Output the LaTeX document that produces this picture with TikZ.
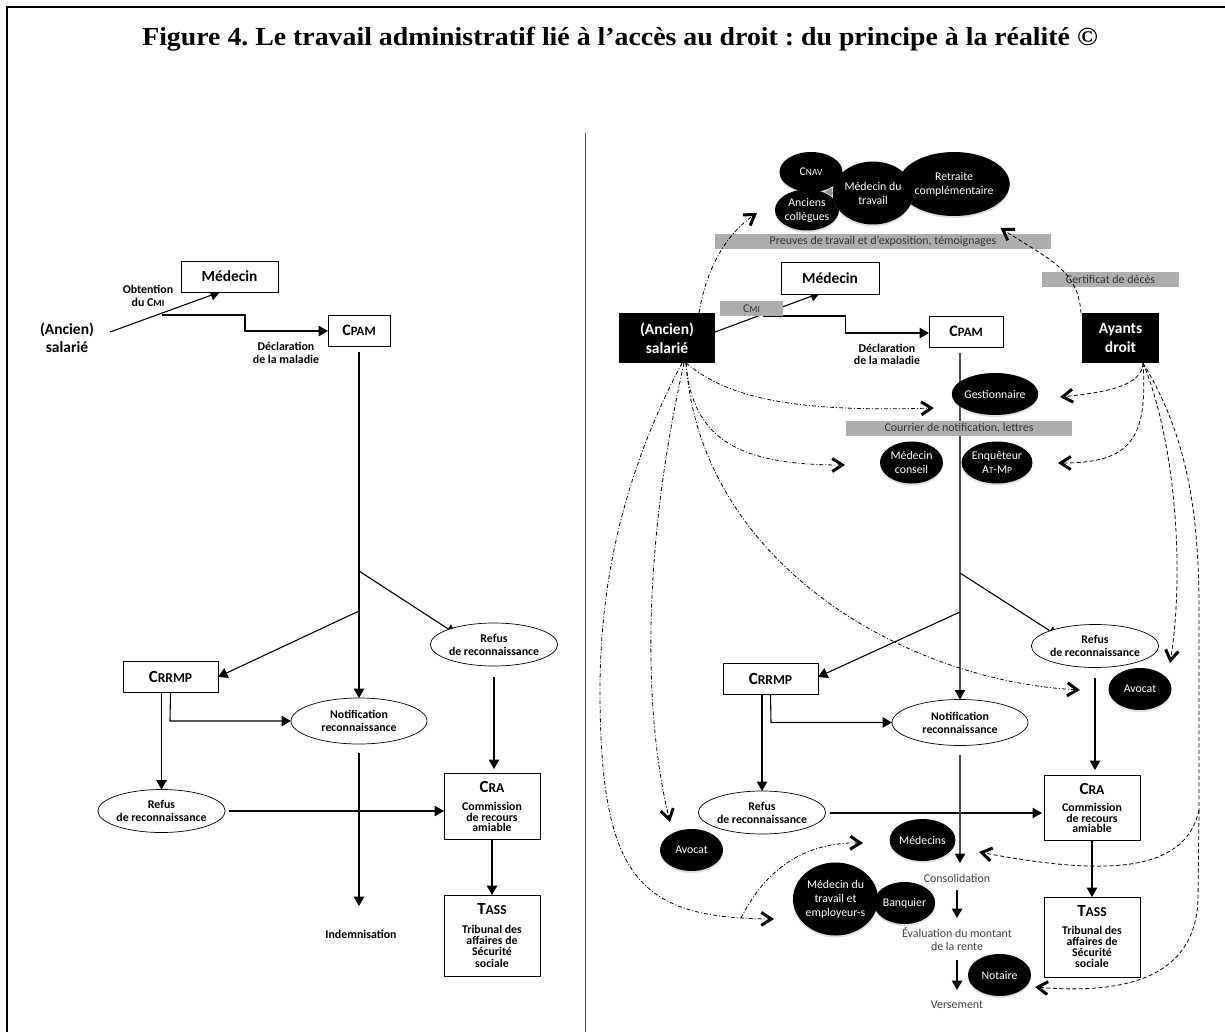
\documentclass[tikz,border=0pt]{standalone}
\usepackage{fontspec}
\setmainfont{Carlito}
\newfontfamily\titlefont{Liberation Serif}
\usetikzlibrary{arrows.meta,shapes.geometric,shadows}
\pgfdeclarelayer{bg}
\pgfsetlayers{bg,main}
\newcommand{\fs}[1]{\fontsize{#1}{#1}\selectfont}
\newcommand{\smc}[3]{{\fs{#1}#2\fs{\fpeval{#1*0.8}}#3}}
\tikzset{
  x=1pt,y=-1pt,
  every node/.style={inner sep=0pt,outer sep=0pt,align=center},
  box/.style={draw=black,fill=white,line width=.9pt,rectangle},
  blackbox/.style={fill=black,text=white,rectangle,font=\bfseries\fontsize{15.5}{19}\selectfont},
  oval/.style={draw=black,fill=white,line width=.7pt,ellipse,font=\bfseries\fontsize{11.8}{13}\selectfont},
  blob/.style={fill=black,text=white,ellipse,font=\fontsize{11.8}{14}\selectfont,
    drop shadow={shadow xshift=0pt,shadow yshift=-2pt,opacity=.25}},
  graybar/.style={fill=black!32,rectangle,text=black!80,font=\fontsize{11.9}{13}\selectfont},
  lab/.style={font=\bfseries\fontsize{11.9}{12.5}\selectfont},
  plain/.style={text=black!75,font=\fontsize{11.9}{13}\selectfont},
  conn/.style={line width=1.1pt,-{Triangle[length=9.5pt,width=10.5pt]}},
  connb/.style={line width=1.1pt,black!70,-{Triangle[length=9.5pt,width=10.5pt,color=black]}},
  ddot/.style={line width=.8pt,dash pattern=on 4pt off 2pt on 1pt off 2pt,-{Straight Barb[length=10pt,width=13pt,line width=3pt]}},
  dsh/.style={line width=.8pt,dash pattern=on 4pt off 2.5pt,-{Straight Barb[length=10pt,width=13pt,line width=3pt]}},
  dshplain/.style={line width=.8pt,dash pattern=on 4pt off 2.5pt},
}
\begin{document}
\begin{tikzpicture}
\useasboundingbox (0,0) rectangle (1225,1032);
% frame, title, separator
\draw[line width=2.5pt] (7,1032) -- (7,7) -- (1225,7);
\node[font=\titlefont\bfseries\fontsize{26}{28}\selectfont] (title) at (620,39) {\frenchspacing\scalebox{1.07}[1]{Figure 4. Le travail administratif lié à l’accès au droit : du principe à la réalité ©}};
\coordinate (septop) at (585.5,133);
\coordinate (sepbot) at (585.5,1032);
\draw[line width=.7pt,black!70] (septop) -- (sepbot);

% ---------- left panel ----------
\node[font=\bfseries\fontsize{15.5}{18}\selectfont] (lsal) at (67,338) {(Ancien)\\salarié};
\node[lab] (lobt) at (148,296) {Obtention\\du \smc{11.9}{C}{MI}};
\node[box,minimum width=97pt,minimum height=31pt,font=\bfseries\fontsize{15.4}{18}\selectfont] (lmed) at (229.5,276.5) {Médecin};
\node[box,minimum width=62pt,minimum height=31pt,font=\bfseries] (lcpam) at (359,330.5) {\smc{16}{C}{PAM}};
\node[lab] (ldec) at (286,353) {Déclaration\\de la maladie};
\node[oval,minimum width=126pt,minimum height=43pt] (lrefa) at (494,644.5) {Refus\\de reconnaissance};
\node[box,minimum width=95pt,minimum height=31pt,font=\bfseries] (lcrrmp) at (170.5,676.5) {\smc{17}{C}{RRMP}};
\node[oval,minimum width=136pt,minimum height=46pt] (lnot) at (359,721) {Notification\\reconnaissance};
\node[oval,minimum width=126pt,minimum height=43pt] (lrefb) at (161.5,811) {Refus\\de reconnaissance};
\node[box,minimum width=96pt,minimum height=66pt] (lcra) at (492,806) {};
\node[font=\bfseries] at (492,787) {\smc{17}{C}{RA}};
\node[lab,font=\bfseries\fontsize{11.8}{10.8}\selectfont] at (492,817) {Commission\\de recours\\amiable};
\node[box,minimum width=96pt,minimum height=81pt] (ltass) at (492,935.5) {};
\node[font=\bfseries] at (492,909) {\smc{17}{T}{ASS}};
\node[lab,font=\bfseries\fontsize{11.8}{11.4}\selectfont] at (492,946) {Tribunal des\\affaires de\\Sécurité\\sociale};
\node[lab] (lind) at (361,934) {Indemnisation};

\coordinate (lsa) at (110,332);
\coordinate (lst) at (162,315);
\coordinate (lbr1) at (359,571);
\coordinate (lbr2) at (359,611);
\coordinate (lrt) at (456,634);
\begin{pgfonlayer}{bg}
\draw[conn] (lsa) -- (220,292);
\draw[conn] (lst) -- (245,315) -- (245,331) -- (lcpam.west |- 0,331);
\draw[conn] (359,352) -- (lnot.north);
\draw[conn] (lbr1) -- (lrt);
\draw[conn] (lbr2) -- (lcrrmp.east |- 0,677);
\draw[conn] (lcrrmp.south -| lrefb.north) -- (lrefb.north);
\draw[conn] (lcrrmp.south) -- (170,721) -- (lnot.west);
\draw[conn] (lrefa.south |- 0,677) -- (lrefa.south |- 0,769);
\draw[conn] (229,811) -- (lcra.west |- 0,811);
\draw[conn] (359,753) -- (359,906);
\draw[conn] (lcra.south) -- (ltass.north);
\end{pgfonlayer}

% ---------- right panel ----------
\node[blackbox,minimum width=96pt,minimum height=50pt] (sal) at (667,338) {(Ancien)\\salarié};
\node[blackbox,minimum width=77pt,minimum height=50pt] (ay) at (1120.5,338) {Ayants\\droit};
\node[box,minimum width=98pt,minimum height=32pt,font=\bfseries\fontsize{15.4}{18}\selectfont] (med) at (830,278) {Médecin};
\node[graybar,minimum width=63pt,minimum height=15pt] (cmi) at (751.5,308.5) {\smc{11.9}{C}{MI}};
\node[box,minimum width=74pt,minimum height=31pt,font=\bfseries] (cpam) at (966,331.5) {\smc{16}{C}{PAM}};
\node[lab] (dec) at (887,354.5) {Déclaration\\de la maladie};

\node[blob,minimum width=98pt,minimum height=64pt] (ret) at (954,184) {Retraite\\complémentaire};
\node[blob,minimum width=63pt,minimum height=40pt] (cnav) at (811,172) {\smc{11.8}{C}{NAV}};
\node[blob,minimum width=64pt,minimum height=41pt] (anc) at (807,210) {Anciens\\collègues};
\node[blob,minimum width=80pt,minimum height=63pt] (medt) at (873,193) {Médecin du\\travail};
\fill[black!45] (825,192) -- (832,188) -- (832,196) -- cycle;
\node[graybar,minimum width=336pt,minimum height=15pt] (preu) at (883,241.5) {Preuves de travail et d’exposition, témoignages};
\node[graybar,minimum width=137pt,minimum height=15pt] (cert) at (1110.5,279.5) {Certificat de décès};
\node[blob,minimum width=62pt,minimum height=42pt] (ges) at (995,394) {Gestionnaire};
\node[graybar,minimum width=226pt,minimum height=15pt] (cou) at (959,428.5) {Courrier de notification, lettres};
\node[blob,minimum width=63pt,minimum height=42pt] (mco) at (911.5,462.5) {Médecin\\conseil};
\node[blob,minimum width=63pt,minimum height=42pt] (enq) at (997,462.5) {Enquêteur\\\smc{11.8}{A}{T}-\smc{11.8}{M}{P}};

\node[oval,minimum width=126pt,minimum height=43pt] (refa) at (1095,646) {Refus\\de reconnaissance};
\node[box,minimum width=95pt,minimum height=31pt,font=\bfseries] (crrmp) at (770.5,678.5) {\smc{17}{C}{RRMP}};
\node[oval,minimum width=136pt,minimum height=46pt] (not) at (960,722.5) {Notification\\reconnaissance};
\node[oval,minimum width=126pt,minimum height=43pt] (refb) at (762,812.5) {Refus\\de reconnaissance};
\node[box,minimum width=96pt,minimum height=65pt] (cra) at (1092,807.5) {};
\node[font=\bfseries] at (1092,789) {\smc{17}{C}{RA}};
\node[lab,font=\bfseries\fontsize{11.8}{10.8}\selectfont] at (1092,818) {Commission\\de recours\\amiable};
\node[box,minimum width=96pt,minimum height=80pt] (tass) at (1092,937) {};
\node[font=\bfseries] at (1092,911) {\smc{17}{T}{ASS}};
\node[lab,font=\bfseries\fontsize{11.8}{11.2}\selectfont] at (1092,947) {Tribunal des\\affaires de\\Sécurité\\sociale};
\node[blob,minimum width=63pt,minimum height=42pt] (avr) at (1140,689) {Avocat};
\node[blob,minimum width=63pt,minimum height=42pt] (avl) at (691.5,850) {Avocat};
\node[blob,minimum width=63pt,minimum height=42pt] (meds) at (922.5,840) {Médecins};
\node[blob,minimum width=61pt,minimum height=42pt] (ban) at (904.5,903) {Banquier};
\node[blob,minimum width=85pt,minimum height=73pt] (medw) at (835.5,899) {Médecin du\\travail et\\employeur-s};
\node[blob,minimum width=63pt,minimum height=42pt] (nota) at (999.5,975) {Notaire};
\node[plain] (con) at (957,878) {Consolidation};
\node[plain] (eva) at (957,939.5) {Évaluation du montant\\de la rente};
\node[plain] (ver) at (957,1005) {Versement};

\coordinate (vtop) at (960,353);
\coordinate (br1) at (960,573);
\coordinate (br2) at (960,612);
\coordinate (rt) at (1058,636);
\coordinate (step) at (763,316);
\begin{pgfonlayer}{bg}
\draw[conn] (sal.east |- 0,332) -- (820,293);
\draw[conn] (step) -- (845.5,316) -- (845.5,333) -- (cpam.west |- 0,333);
\draw[connb] (vtop) -- (not.north);
\draw[conn] (br1) -- (rt);
\draw[conn] (br2) -- (crrmp.east |- 0,677);
\draw[conn] (crrmp.south -| refb.north) -- (refb.north);
\draw[conn] (crrmp.south) -- (771,722.5) -- (not.west);
\draw[conn] (refa.south |- 0,678) -- (refa.south |- 0,770);
\draw[conn] (830,813) -- (1042,813);
\draw[connb] (960,755) -- (960,863);
\draw[conn] (cra.south) -- (tass.north);
\draw[conn] (957,890) -- (957,918);
\draw[conn] (957,960) -- (957,990);
\end{pgfonlayer}

% dash-dotted links from the (former) employee
\coordinate (ss) at (686,363);
\coordinate (sn) at (699,313);
\coordinate (tpreu) at (757,213);
\coordinate (tges) at (934,408);
\coordinate (tmco) at (845,465);
\coordinate (tavr) at (1080,690);
\coordinate (tavl) at (670,822);
\coordinate (tmedw) at (774,919);
\coordinate (gs) at (741,918);
\coordinate (tmeds) at (863,843);
\draw[ddot] (sn) .. controls (706,270) and (725,235) .. (tpreu);
\draw[ddot] (ss) .. controls (730,400) and (800,412) .. (tges);
\draw[ddot] (ss) .. controls (692,440) and (740,465) .. (tmco);
\draw[ddot] (ss) .. controls (700,560) and (900,680) .. (tavr);
\draw[ddot] (684,363) .. controls (640,560) and (645,720) .. (tavl);
\draw[ddot] (682,363) .. controls (620,480) and (600,590) .. (600,690) .. controls (600,880) and (640,918) .. (tmedw);
\draw[ddot] (gs) .. controls (770,860) and (815,842) .. (tmeds);

% dashed links from the entitled persons
\coordinate (an) at (1081,313);
\coordinate (as) at (1143,363);
\coordinate (jn) at (1199,810);
\coordinate (tcert) at (1000.5,228);
\coordinate (tges2) at (1060,397);
\coordinate (tenq) at (1058,463);
\coordinate (tav2) at (1170,663);
\coordinate (tcons) at (979,852);
\coordinate (tnot) at (1035,987);
\draw[dsh] (an) .. controls (1078,270) and (1050,260) .. (tcert);
\draw[dsh] (as) .. controls (1142,385) and (1110,392) .. (tges2);
\draw[dsh] (as) .. controls (1148,440) and (1130,463) .. (tenq);
\draw[dsh] (as) .. controls (1175,440) and (1185,570) .. (tav2);
\draw[dshplain] (as) .. controls (1190,440) and (1198,520) .. (1199,600) -- (jn);
\draw[dsh] (jn) .. controls (1185,875) and (1100,875) .. (tcons);
\draw[dsh] (jn) -- (1198,900) .. controls (1195,975) and (1130,995) .. (tnot);
\end{tikzpicture}
\end{document}
